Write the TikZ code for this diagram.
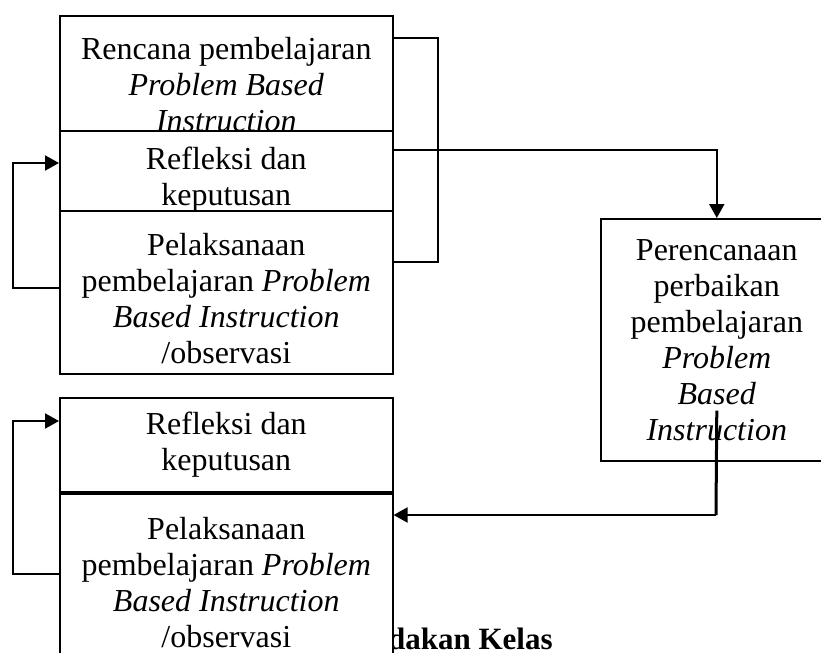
\documentclass[tikz,border=0pt]{standalone}
\usepackage{fontspec}
\setmainfont{Liberation Serif}
\usetikzlibrary{arrows.meta,positioning,calc}

\tikzset{
  stage/.style={draw,line width=0.8pt,fill=white,align=center,inner sep=0pt,minimum width=166.5pt,anchor=north west},
  link/.style={line width=1pt},
  arr/.style={line width=1pt,-{Triangle[length=7pt,width=7.5pt]}}
}

\begin{document}
\begin{tikzpicture}[font=\fontsize{16}{18}\selectfont,x=0.5pt,y=-0.5pt]
\clip (0,0) rectangle (821,653);
\node[stage,minimum height=69pt] (rencana) at (59,15) {Rencana pembelajaran\\\textit{Problem Based}\\\textit{Instruction}};
\node[stage,minimum height=49pt] (refleksiA) at (59,130) {Refleksi dan\\keputusan};
\node[stage,minimum height=81.5pt] (pelaksanaanA) at (59,210) {\rule{0pt}{17pt}Pelaksanaan\\pembelajaran \textit{Problem}\\\textit{Based Instruction}\\/observasi};
\node[anchor=base west,font=\fontsize{15.5}{18}\selectfont\bfseries] (judul) at (381,649) {dakan Kelas};
\node[stage,minimum height=47pt] (refleksiB) at (59,397) {Refleksi dan\\keputusan};
\node[stage,minimum height=89pt] (pelaksanaanB) at (59,493) {Pelaksanaan\\pembelajaran \textit{Problem}\\\textit{Based Instruction}\\/observasi};
\node[stage,minimum width=116pt,minimum height=121pt] (perencanaan) at (600,218) {Perencanaan\\perbaikan\\pembelajaran\\\textit{Problem}\\\textit{Based}\\\textit{Instruction}};
\coordinate (brA) at (438,38);
\coordinate (brB) at (438,262);
\draw[link] (rencana.east |- brA) -- (brA) -- (brB) -- (pelaksanaanA.east |- brB);
\coordinate (belok) at (716,150);
\draw[arr] (refleksiA.east |- belok) -| (perencanaan.north);
\coordinate (ulangA) at (13,288);
\coordinate (ulangB) at (13,163);
\draw[arr] (pelaksanaanA.west |- ulangA) -- (ulangA) -- (ulangB) -- (refleksiA.west |- ulangB);
\coordinate (ulangC) at (13,574);
\coordinate (ulangD) at (13,421);
\draw[arr] (pelaksanaanB.west |- ulangC) -- (ulangC) -- (ulangD) -- (refleksiB.west |- ulangD);
\coordinate (turun) at (716,515);
\draw[line width=1.5pt] ($(perencanaan.south)+(0,-51)$) -- (turun);
\draw[arr] (turun) -- (pelaksanaanB.east |- turun);
\end{tikzpicture}
\end{document}
